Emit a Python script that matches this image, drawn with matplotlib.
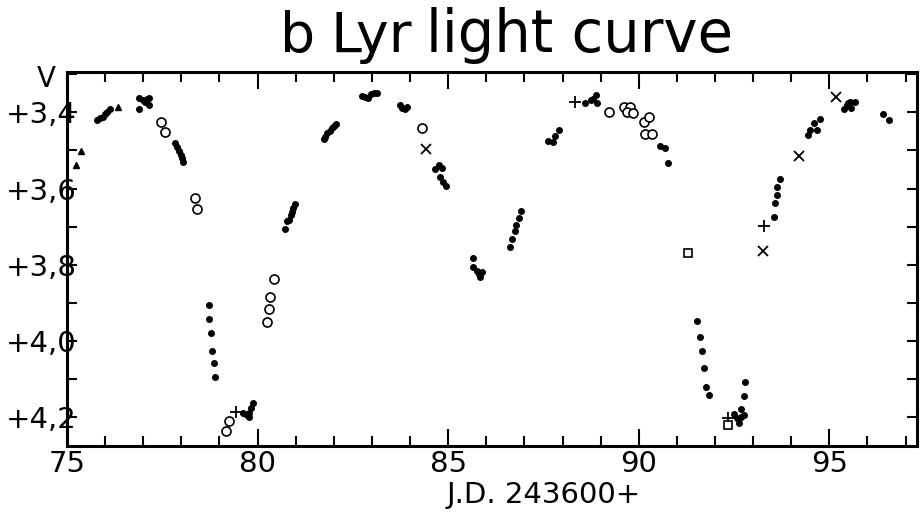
import matplotlib
matplotlib.use("Agg")
import matplotlib.pyplot as plt
from matplotlib.ticker import MultipleLocator, FuncFormatter

# photometric observations, JD - 2436000, V magnitude
dots_jd = [75.80, 75.87, 75.95, 76.01, 76.06, 76.13,
           76.90, 76.88, 76.99, 77.09, 77.16, 77.14, 77.05,
           77.83, 77.88, 77.93, 77.98, 78.01, 78.04,
           78.72, 78.73, 78.77, 78.80, 78.85, 78.89,
           79.63, 79.72, 79.77, 79.78, 79.82, 79.89,
           80.72, 80.78, 80.83, 80.87, 80.91, 80.94, 80.97,
           81.75, 81.78, 81.83, 81.89, 81.95, 82.01, 82.06,
           82.73, 82.82, 82.91, 82.97, 83.06, 83.13,
           83.74, 83.78, 83.87, 83.92,
           84.66, 84.75, 84.83, 84.79, 84.86, 84.94,
           85.65, 85.65, 85.75, 85.84, 85.88, 85.80,
           86.61, 86.68, 86.76, 86.78, 86.85, 86.91,
           87.63, 87.76, 87.81, 87.90,
           88.60, 88.75, 88.81, 88.88, 88.90,
           90.56, 90.68, 90.76,
           91.53, 91.60, 91.66, 91.70, 91.76, 91.83,
           92.51, 92.58, 92.62, 92.68, 92.69, 92.75, 92.75, 92.80,
           93.54, 93.57, 93.63, 93.63, 93.71,
           94.43, 94.48, 94.59, 94.68, 94.76,
           95.38, 95.46, 95.53, 95.57, 95.68, 95.48,
           96.41, 96.57]
dots_v = [3.420, 3.416, 3.412, 3.405, 3.398, 3.392,
          3.390, 3.363, 3.368, 3.366, 3.363, 3.381, 3.372,
          3.481, 3.492, 3.501, 3.512, 3.521, 3.531,
          3.905, 3.943, 3.978, 4.025, 4.058, 4.094,
          4.189, 4.193, 4.198, 4.187, 4.176, 4.161,
          3.706, 3.686, 3.682, 3.669, 3.661, 3.652, 3.640,
          3.471, 3.464, 3.455, 3.448, 3.442, 3.435, 3.431,
          3.357, 3.359, 3.363, 3.353, 3.350, 3.349,
          3.381, 3.388, 3.390, 3.385,
          3.549, 3.538, 3.547, 3.569, 3.582, 3.593,
          3.783, 3.805, 3.815, 3.831, 3.818, 3.824,
          3.752, 3.733, 3.710, 3.695, 3.678, 3.658,
          3.475, 3.477, 3.462, 3.445,
          3.375, 3.368, 3.365, 3.355, 3.376,
          3.488, 3.494, 3.534,
          3.946, 3.990, 4.025, 4.071, 4.119, 4.141,
          4.192, 4.202, 4.214, 4.198, 4.178, 4.193, 4.143, 4.106,
          3.674, 3.639, 3.617, 3.597, 3.576,
          3.460, 3.446, 3.429, 3.446, 3.418,
          3.390, 3.381, 3.372, 3.388, 3.372, 3.375,
          3.404, 3.420]

circles_jd = [77.48, 77.56, 78.36, 78.40, 79.18, 79.26,
              80.43, 80.33, 80.29, 80.26, 84.31, 89.22,
              89.62, 89.78, 89.69, 89.85, 90.13, 90.28, 90.17, 90.35]
circles_v = [3.425, 3.451, 3.625, 3.654, 4.235, 4.209,
             3.838, 3.883, 3.916, 3.949, 3.442, 3.400,
             3.385, 3.385, 3.400, 3.401, 3.426, 3.412, 3.457, 3.457]

tri_jd = [75.24, 75.36, 76.35]
tri_v = [3.539, 3.501, 3.387]

plus_jd = [79.44, 88.34, 93.29, 92.33]
plus_v = [4.186, 3.372, 3.698, 4.202]

cross_jd = [84.41, 93.26, 94.21, 95.17]
cross_v = [3.496, 3.763, 3.515, 3.359]

square_jd = [91.28, 92.35]
square_v = [3.770, 4.221]

fig = plt.figure(figsize=(9.21, 5.12), dpi=100)
ax = fig.add_axes([0.0727, 0.1295, 0.9230, 0.7293])

ax.plot(dots_jd, dots_v, 'o', color='black', markersize=4, linestyle='none')
ax.plot(circles_jd, circles_v, 'o', mfc='white', mec='black', mew=1.2,
        markersize=6.5, linestyle='none')
ax.plot(tri_jd, tri_v, '^', color='black', markersize=5, linestyle='none')
ax.plot(plus_jd, plus_v, '+', color='black', markersize=9, mew=1.3, linestyle='none')
ax.plot(cross_jd, cross_v, 'x', color='black', markersize=6.5, mew=1.3, linestyle='none')
ax.plot(square_jd, square_v, 's', mfc='white', mec='black', mew=1.2,
        markersize=6, linestyle='none')

ax.set_xlim(75, 97.3)
ax.set_ylim(4.274, 3.295)

ax.xaxis.set_major_locator(MultipleLocator(5))
ax.xaxis.set_minor_locator(MultipleLocator(1))
ax.yaxis.set_major_locator(MultipleLocator(0.2))
ax.yaxis.set_minor_locator(MultipleLocator(0.1))
ax.yaxis.set_major_formatter(FuncFormatter(lambda v, p: ('+%.1f' % v).replace('.', ',')))

for s in ax.spines.values():
    s.set_linewidth(2.2)
ax.tick_params(axis='both', which='both', direction='in', top=True, right=True,
               width=1.5)
ax.tick_params(axis='x', which='major', length=12, pad=3, labelsize=21)
ax.tick_params(axis='x', which='minor', length=7)
ax.tick_params(axis='y', which='both', length=7, pad=-7, labelsize=21)

# title drawn in pieces, the gap before "light" is narrow in the original
fig.text(0.304, 0.898, 'b', fontsize=40, ha='left', va='baseline')
fig.text(0.447, 0.898, 'Lyr', fontsize=40, ha='right', va='baseline')
fig.text(0.796, 0.898, 'light curve', fontsize=41.5, ha='right', va='baseline')
fig.text(0.590, 0.0176, 'J.D. 243600+', fontsize=21, ha='center', va='baseline')
fig.text(0.050, 0.830, 'V', fontsize=20, ha='center', va='baseline')

fig.savefig('out.png', dpi=100)
